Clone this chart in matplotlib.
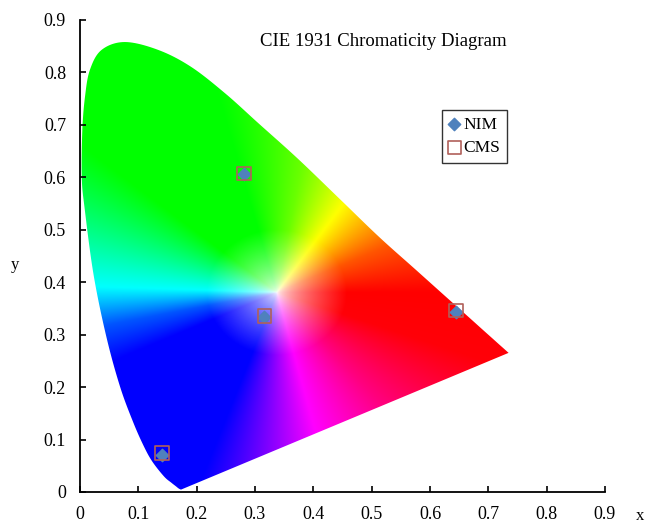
import numpy as np
import matplotlib
matplotlib.use("Agg")
import matplotlib.pyplot as plt
from matplotlib.patches import Polygon
from matplotlib.colors import hsv_to_rgb

# ---- data ----
locus_x = [0.1741, 0.1726, 0.1689, 0.1644, 0.1566, 0.1440, 0.1241, 0.1096, 0.0913,
           0.0687, 0.0454, 0.0235, 0.0082, 0.0030, 0.0040, 0.0086, 0.0170, 0.0370,
           0.0770, 0.1340, 0.1900, 0.2490, 0.3060, 0.3730, 0.4441, 0.5125, 0.5752,
           0.6270, 0.6658, 0.6915, 0.7079, 0.7190, 0.7260, 0.7300, 0.7347]
locus_y = [0.0050, 0.0048, 0.0069, 0.0109, 0.0177, 0.0297, 0.0578, 0.0868, 0.1327,
           0.2007, 0.2950, 0.4127, 0.5384, 0.6000, 0.6900, 0.7540, 0.8050, 0.8430,
           0.8580, 0.8430, 0.8110, 0.7600, 0.7030, 0.6360, 0.5600, 0.4866, 0.4242,
           0.3725, 0.3340, 0.3083, 0.2920, 0.2809, 0.2740, 0.2700, 0.2653]

nim_x = [0.141, 0.281, 0.316, 0.645]
nim_y = [0.071, 0.607, 0.334, 0.343]
cms_x = [0.141, 0.281, 0.316, 0.645]
cms_y = [0.074, 0.607, 0.336, 0.346]

ticks = [0, 0.1, 0.2, 0.3, 0.4, 0.5, 0.6, 0.7, 0.8, 0.9]
tick_labels = ["0", "0.1", "0.2", "0.3", "0.4", "0.5", "0.6", "0.7", "0.8", "0.9"]

# colour field: hue by direction from the white point
white_xy = (0.337, 0.380)
angle_keys = [0, 25, 56, 80, 105, 140, 178, 192, 205, 250, 284, 310, 340, 360]
hue_keys = [0, 20, 60, 95, 120, 120, 180, 220, 240, 240, 300, 330, 358, 360]


def catmull_rom(px, py, n=12):
    pts = np.column_stack([px, py])
    pts = np.vstack([pts[0], pts, pts[-1]])
    out = []
    for i in range(1, len(pts) - 2):
        p0, p1, p2, p3 = pts[i - 1], pts[i], pts[i + 1], pts[i + 2]
        for t in np.linspace(0, 1, n, endpoint=False):
            t2, t3 = t * t, t * t * t
            out.append(0.5 * ((2 * p1) + (-p0 + p2) * t +
                              (2 * p0 - 5 * p1 + 4 * p2 - p3) * t2 +
                              (-p0 + 3 * p1 - 3 * p2 + p3) * t3))
    out.append(pts[-2])
    return np.array(out)


curve = catmull_rom(locus_x, locus_y)

n = 700
gx = np.linspace(0, 0.76, n)
gy = np.linspace(0.0, 0.87, n)
X, Y = np.meshgrid(gx, gy)
dx, dy = X - white_xy[0], Y - white_xy[1]
theta = np.degrees(np.arctan2(dy, dx)) % 360
hue = np.interp(theta, angle_keys, hue_keys) % 360 / 360.0
dist = np.hypot(dx, dy)
sat = np.clip(dist / 0.12, 0, 1) ** 0.6
val = np.ones_like(sat)
RGB = hsv_to_rgb(np.stack([hue, sat, val], axis=-1))

plt.rcParams['font.family'] = ['Liberation Serif', 'DejaVu Serif']

fig = plt.figure(figsize=(6.46, 5.23), dpi=100)
ax = fig.add_axes([80 / 646, 31 / 523, 525 / 646, 472 / 523])

im = ax.imshow(RGB, origin='lower', extent=[gx[0], gx[-1], gy[0], gy[-1]],
               interpolation='bilinear', aspect='auto', zorder=1)
poly = Polygon(curve, closed=True, facecolor='none', edgecolor='none',
               transform=ax.transData)
ax.add_patch(poly)
im.set_clip_path(poly)

ax.scatter(nim_x, nim_y, marker='D', s=40, color='#4F81BD', zorder=3, label='NIM')
ax.scatter(cms_x, cms_y, marker='s', s=95, facecolor='none', edgecolor='#B0605A',
           linewidth=1.2, zorder=4, label='CMS')

ax.set_xlim(0, 0.9)
ax.set_ylim(0, 0.9)
ax.set_xticks(ticks)
ax.set_xticklabels(tick_labels)
ax.set_yticks(ticks)
ax.set_yticklabels(tick_labels)
ax.tick_params(direction='in', length=4.5, width=1.2, labelsize=13, pad=10, colors='black')
for s in ['top', 'right']:
    ax.spines[s].set_visible(False)
for s in ['left', 'bottom']:
    ax.spines[s].set_linewidth(1.3)

leg = ax.legend(loc='upper left', bbox_to_anchor=(0.69, 0.81), frameon=True,
                fancybox=False, edgecolor='black', fontsize=12.5, handlelength=0.6,
                handletextpad=0.2, borderpad=0.4, labelspacing=0.4, borderaxespad=0)
leg.get_frame().set_linewidth(1.0)

fig.text(383 / 646, 1 - 42 / 523, 'CIE 1931 Chromaticity Diagram', ha='center',
         va='center', fontsize=13.5)
fig.text(15 / 646, 1 - 265 / 523, 'y', ha='center', va='center', fontsize=12)
fig.text(640 / 646, 1 - 516 / 523, 'x', ha='center', va='center', fontsize=12)

fig.savefig('out.png', dpi=100)
